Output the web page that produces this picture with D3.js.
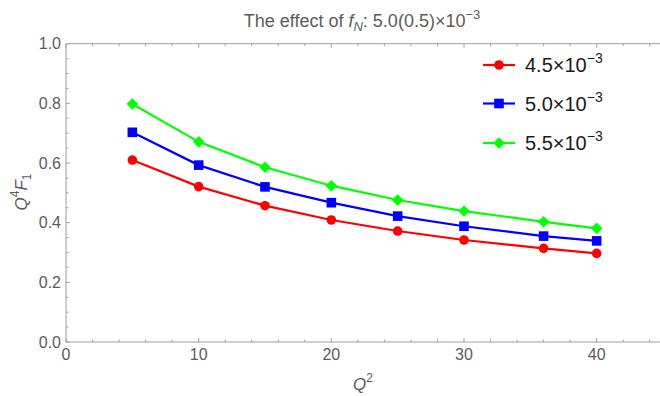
<!DOCTYPE html>
<html><head><meta charset="utf-8">
<script src="https://cdn.jsdelivr.net/npm/d3@7"></script>
<style>body{margin:0;background:#fff;}svg{display:block;font-family:"Liberation Sans",Arial,sans-serif;}</style>
</head><body><svg id="c" width="660" height="396"></svg>
<script>
const q2 = [5, 10, 15, 20, 25, 30, 36, 40];
const series45 = [0.610, 0.521, 0.457, 0.409, 0.372, 0.342, 0.314, 0.297];
const series50 = [0.703, 0.593, 0.520, 0.467, 0.422, 0.388, 0.355, 0.339];
const series55 = [0.798, 0.671, 0.586, 0.524, 0.476, 0.439, 0.403, 0.381];
const seriesNames = ["4.5", "5.0", "5.5"];
const xTicks = [0, 10, 20, 30, 40];
const yTicks = [0.0, 0.2, 0.4, 0.6, 0.8, 1.0];

const svg = d3.select("#c");
const x = d3.scaleLinear().domain([0, 45]).range([66, 663]);
const y = d3.scaleLinear().domain([0, 1]).range([342, 43.7]);
const frameColor = "#a0a0a0", textColor = "#5c5c5c";

// frame
const g = svg.append("g");
g.append("line").attr("x1", x(0)).attr("x2", 660).attr("y1", y(0)).attr("y2", y(0)).attr("stroke", frameColor);
g.append("line").attr("x1", x(0)).attr("x2", 660).attr("y1", y(1)).attr("y2", y(1)).attr("stroke", frameColor);
g.append("line").attr("x1", x(0)).attr("x2", x(0)).attr("y1", y(0)).attr("y2", y(1)).attr("stroke", frameColor);

// x ticks (bottom and top), inward
const xMinor = d3.range(0, 46, 2);
xMinor.forEach(v => {
  const major = v % 10 === 0;
  const L = major ? 4 : 2.5;
  g.append("line").attr("x1", x(v)).attr("x2", x(v)).attr("y1", y(0)).attr("y2", y(0) - L).attr("stroke", frameColor);
  g.append("line").attr("x1", x(v)).attr("x2", x(v)).attr("y1", y(1)).attr("y2", y(1) + L).attr("stroke", frameColor);
});
const yMinor = d3.range(0, 1.001, 0.05);
yMinor.forEach(v => {
  const major = Math.abs(v * 5 - Math.round(v * 5)) < 1e-6;
  const L = major ? 4 : 2.5;
  g.append("line").attr("x1", x(0)).attr("x2", x(0) + L).attr("y1", y(v)).attr("y2", y(v)).attr("stroke", frameColor);
});

// tick labels
svg.append("g").selectAll("text").data(xTicks).join("text")
  .attr("x", d => x(d)).attr("y", 360).attr("text-anchor", "middle")
  .attr("font-size", 16).attr("fill", textColor).text(d => d);
svg.append("g").selectAll("text").data(yTicks).join("text")
  .attr("x", 61).attr("y", d => y(d) + 5.5).attr("text-anchor", "end")
  .attr("font-size", 16).attr("fill", textColor).text(d => d.toFixed(1));

// axis labels
const xl = svg.append("text").attr("x", 363).attr("y", 390).attr("text-anchor", "middle")
  .attr("font-size", 17).attr("fill", textColor);
xl.append("tspan").attr("font-style", "italic").text("Q");
xl.append("tspan").attr("font-size", 12).attr("dy", -8).text("2");

const yl = svg.append("text").attr("transform", "translate(27,192) rotate(-90)").attr("text-anchor", "middle")
  .attr("font-size", 17).attr("fill", textColor);
yl.append("tspan").attr("font-style", "italic").text("Q");
yl.append("tspan").attr("font-size", 12).attr("dy", -8).text("4");
yl.append("tspan").attr("font-style", "italic").attr("dy", 8).text("F");
yl.append("tspan").attr("font-size", 12).attr("dy", 4).text("1");

// title
const t = svg.append("text").attr("x", 362).attr("y", 27).attr("text-anchor", "middle")
  .attr("font-size", 18).attr("fill", textColor);
t.append("tspan").text("The effect of ");
t.append("tspan").attr("font-style", "italic").text("f");
t.append("tspan").attr("font-style", "italic").attr("font-size", 13).attr("dy", 4).text("N");
t.append("tspan").attr("dy", -4).text(": 5.0(0.5)×10");
t.append("tspan").attr("font-size", 13).attr("dy", -8).text("−3");

// data
const data = [
  {name: seriesNames[0], vals: series45, color: "#ff0000", shape: "circle"},
  {name: seriesNames[1], vals: series50, color: "#0000ff", shape: "square"},
  {name: seriesNames[2], vals: series55, color: "#00ff00", shape: "diamond"}
];
const line = d3.line().x((d, i) => x(q2[i])).y(d => y(d));
function marker(sel, shape, color) {
  if (shape === "circle") sel.append("circle").attr("r", 4.8).attr("fill", color);
  else if (shape === "square") sel.append("rect").attr("x", -4.8).attr("y", -4.8).attr("width", 9.6).attr("height", 9.6).attr("fill", color);
  else sel.append("path").attr("d", "M0,-5.8L5.8,0L0,5.8L-5.8,0Z").attr("fill", color);
}
data.forEach(s => {
  svg.append("path").attr("d", line(s.vals)).attr("fill", "none").attr("stroke", s.color).attr("stroke-width", 2.2);
  s.vals.forEach((v, i) => {
    const m = svg.append("g").attr("transform", `translate(${x(q2[i])},${y(v)})`);
    marker(m, s.shape, s.color);
  });
});

// legend
const legY = [65, 103.5, 143];
data.forEach((s, i) => {
  const lg = svg.append("g").attr("transform", `translate(0,${legY[i]})`);
  lg.append("line").attr("x1", 483).attr("x2", 515).attr("stroke", s.color).attr("stroke-width", 2.2);
  const m = lg.append("g").attr("transform", "translate(499,0)");
  marker(m, s.shape, s.color);
  const tx = lg.append("text").attr("x", 525).attr("y", 7).attr("font-size", 20).attr("fill", "#1a1a1a");
  tx.append("tspan").text(s.name + "×10");
  tx.append("tspan").attr("font-size", 14).attr("dy", -9).text("−3");
});
</script></body></html>
